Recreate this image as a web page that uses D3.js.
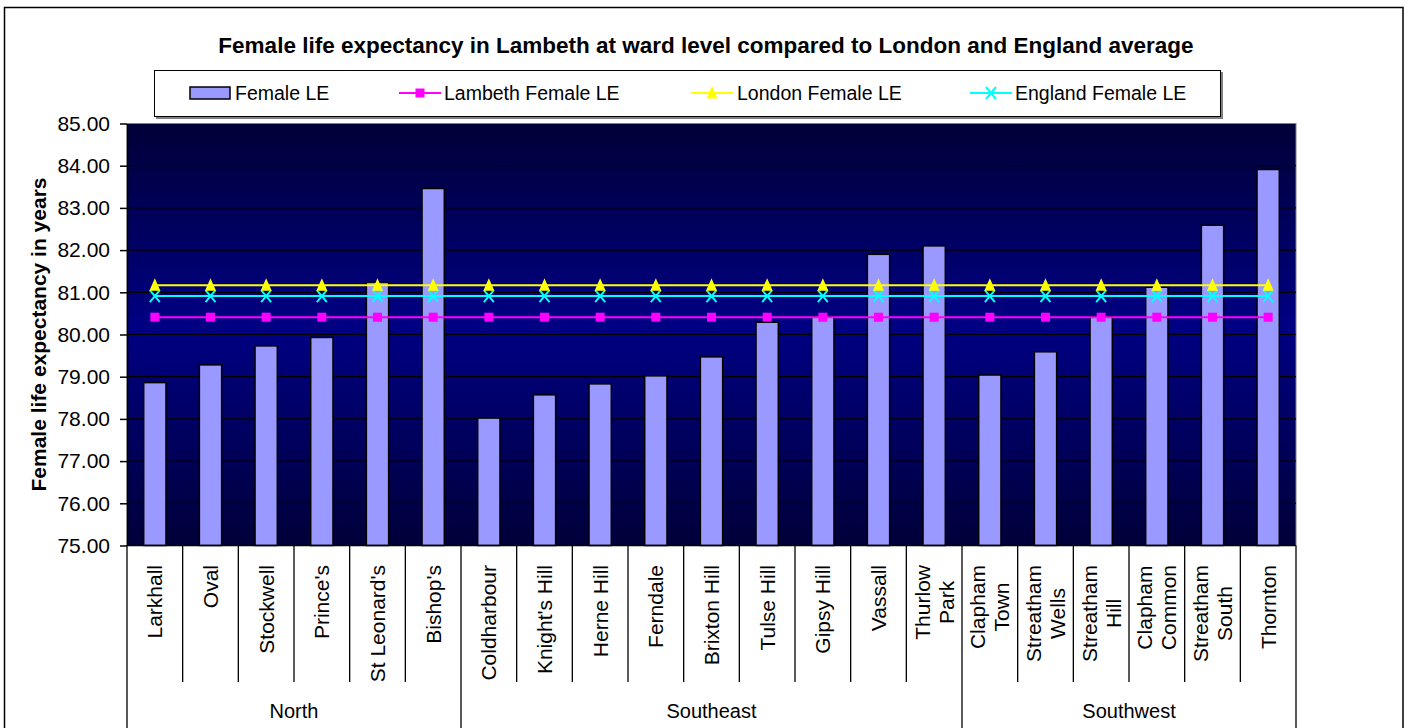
<!DOCTYPE html>
<html>
<head>
<meta charset="utf-8">
<script src="https://cdn.jsdelivr.net/npm/d3@7"></script>
<style>
  body { margin: 0; background: #fff; }
  svg { display: block; }
  text { font-family: "Liberation Sans", Arial, Helvetica, sans-serif; fill: #000; }
</style>
</head>
<body>
<svg id="chart" width="1409" height="728"></svg>
<script>
// Ward-level female life expectancy (years), Lambeth
const wards = [
  "Larkhall", "Oval", "Stockwell", "Prince's", "St Leonard's", "Bishop's",
  "Coldharbour", "Knight's Hill", "Herne Hill", "Ferndale", "Brixton Hill",
  "Tulse Hill", "Gipsy Hill", "Vassall", "Thurlow\nPark",
  "Clapham\nTown", "Streatham\nWells", "Streatham\nHill", "Clapham\nCommon",
  "Streatham\nSouth", "Thornton"
];
const areas = ["North", "Southeast", "Southwest"];
const wardArea = [
  "North", "North", "North", "North", "North", "North",
  "Southeast", "Southeast", "Southeast", "Southeast", "Southeast",
  "Southeast", "Southeast", "Southeast", "Southeast",
  "Southwest", "Southwest", "Southwest", "Southwest", "Southwest", "Southwest"
];
const femaleLE = [
  78.86, 79.28, 79.73, 79.93, 81.24, 83.46,
  78.02, 78.57, 78.83, 79.02, 79.47, 80.29, 80.42, 81.90, 82.10,
  79.04, 79.59, 80.42, 81.12, 82.59, 83.91
];
// Reference averages
const lambethLE = 80.41;
const londonLE = 81.17;
const englandLE = 80.91;
const yTicks = [75, 76, 77, 78, 79, 80, 81, 82, 83, 84, 85];

const titleText = "Female life expectancy in Lambeth at ward level compared to London and England average";
const yTitle = "Female life expectancy in years";

const svg = d3.select("#chart");
const plot = { left: 127, right: 1296, top: 123.5, bottom: 545.5 };

const x = d3.scaleBand().domain(wards).range([plot.left, plot.right])
  .paddingInner(0.6).paddingOuter(0.3);
const y = d3.scaleLinear().domain([75, 85]).range([plot.bottom, plot.top]);
const cx = w => x(w) + x.bandwidth() / 2;
const step = x.step();
const edge = i => plot.left + i * step; // boundary before category i

// Outer chart frame
svg.append("rect").attr("x", 4.5).attr("y", 7.5).attr("width", 1398.5).attr("height", 730)
  .attr("fill", "#fff").attr("stroke", "#000").attr("stroke-width", 1.5);

// Title
svg.append("text").attr("x", 706).attr("y", 53).attr("text-anchor", "middle")
  .style("font-size", "22.5px").style("font-weight", "bold").text(titleText);

// Plot background: navy, brightest toward the middle
const defs = svg.append("defs");
const grad = defs.append("linearGradient").attr("id", "plotBg")
  .attr("x1", 0).attr("y1", 0).attr("x2", 0).attr("y2", 1);
grad.append("stop").attr("offset", "0%").attr("stop-color", "#000038");
grad.append("stop").attr("offset", "48%").attr("stop-color", "#000084");
grad.append("stop").attr("offset", "100%").attr("stop-color", "#00003a");

svg.append("rect").attr("x", plot.left).attr("y", plot.top)
  .attr("width", plot.right - plot.left).attr("height", plot.bottom - plot.top)
  .attr("fill", "url(#plotBg)").attr("stroke", "#808080").attr("stroke-width", 1);

// Horizontal gridlines
svg.append("g").selectAll("line").data(yTicks.filter(t => t > 75 && t < 85)).join("line")
  .attr("x1", plot.left).attr("x2", plot.right)
  .attr("y1", d => y(d)).attr("y2", d => y(d))
  .attr("stroke", "#000").attr("stroke-width", 1.2);

// Bars
svg.append("g").selectAll("rect").data(wards).join("rect")
  .attr("x", d => x(d)).attr("width", x.bandwidth())
  .attr("y", (d, i) => y(femaleLE[i]))
  .attr("height", (d, i) => y(75) - y(femaleLE[i]))
  .attr("fill", "#9999ff").attr("stroke", "#000").attr("stroke-width", 1.5);

// Average lines with markers
const series = [
  { name: "Lambeth Female LE", value: lambethLE, color: "#ff00ff", symbol: "square" },
  { name: "London Female LE", value: londonLE, color: "#ffff00", symbol: "triangle" },
  { name: "England Female LE", value: englandLE, color: "#00ffff", symbol: "times" }
];

function marker(g, type, color) {
  if (type === "square") {
    g.append("rect").attr("x", -4.5).attr("y", -4.5).attr("width", 9).attr("height", 9)
      .attr("fill", color);
  } else if (type === "triangle") {
    g.append("path").attr("d", "M0,-7L5.5,5.5L-5.5,5.5Z").attr("fill", color);
  } else {
    g.append("path").attr("d", "M-5,-6L5,6M5,-6L-5,6")
      .attr("stroke", color).attr("stroke-width", 2).attr("fill", "none");
  }
}

const lineGen = d3.line().x(d => cx(d.w)).y(d => y(d.v));
// England first, then London, then Lambeth
[series[2], series[1], series[0]].forEach(s => {
  const pts = wards.map(w => ({ w, v: s.value }));
  svg.append("path").datum(pts).attr("d", lineGen)
    .attr("fill", "none").attr("stroke", s.color).attr("stroke-width", 2);
});
[series[2], series[1], series[0]].forEach(s => {
  wards.forEach(w => {
    const g = svg.append("g").attr("transform", `translate(${cx(w)},${y(s.value)})`);
    marker(g, s.symbol, s.color);
  });
});

// Y axis
const yAxis = svg.append("g").attr("transform", `translate(${plot.left},0)`)
  .call(d3.axisLeft(y).tickValues(yTicks).tickFormat(d3.format(".2f"))
    .tickSize(7).tickPadding(10).tickSizeOuter(0));
yAxis.select(".domain").attr("stroke", "#000").attr("stroke-width", 1.5);
yAxis.selectAll(".tick line").attr("stroke", "#000").attr("stroke-width", 1.5);
yAxis.selectAll(".tick text").style("font-size", "21px")
  .style("font-family", "'Liberation Sans', Arial, sans-serif").attr("fill", "#000");

svg.append("text")
  .attr("transform", `translate(46,${(plot.top + plot.bottom) / 2}) rotate(-90)`)
  .attr("text-anchor", "middle").style("font-size", "21px").style("font-weight", "bold")
  .text(yTitle);

// Category axis: ward separators and area separators
const catAxis = svg.append("g");
catAxis.append("line").attr("x1", plot.left).attr("x2", plot.right)
  .attr("y1", plot.bottom).attr("y2", plot.bottom).attr("stroke", "#000").attr("stroke-width", 1.5);

const areaStarts = [];
wardArea.forEach((a, i) => { if (i === 0 || wardArea[i - 1] !== a) areaStarts.push(i); });
const areaBounds = areaStarts.concat([wards.length]);

d3.range(wards.length + 1).forEach(i => {
  const full = areaBounds.includes(i);
  catAxis.append("line")
    .attr("x1", edge(i)).attr("x2", edge(i))
    .attr("y1", plot.bottom).attr("y2", full ? 730 : 682)
    .attr("stroke", "#000").attr("stroke-width", 1.3);
});

// Ward labels, rotated, top-aligned; wrapped names centred on their longest line
const labelTop = 565;
const lineGap = 24;
wards.forEach(w => {
  const lines = w.split("\n");
  const g = catAxis.append("g").attr("transform", `translate(${cx(w)},${labelTop}) rotate(-90)`);
  const texts = lines.map(l => g.append("text").style("font-size", "21px").text(l));
  const maxLen = d3.max(texts, t => t.node().getComputedTextLength());
  texts.forEach((t, k) => {
    t.attr("x", -maxLen / 2).attr("text-anchor", "middle")
      .attr("y", (k - (lines.length - 1) / 2) * lineGap)
      .attr("dy", "0.35em");
  });
});

// Area labels
areas.forEach((a, k) => {
  const mid = (edge(areaBounds[k]) + edge(areaBounds[k + 1])) / 2;
  catAxis.append("text").attr("x", mid).attr("y", 718).attr("text-anchor", "middle")
    .style("font-size", "20px").text(a);
});

// Legend
const legend = svg.append("g");
legend.append("rect").attr("x", 156).attr("y", 72).attr("width", 1067).attr("height", 47)
  .attr("fill", "#808080");
legend.append("rect").attr("x", 154.5).attr("y", 70.5).attr("width", 1066).attr("height", 46)
  .attr("fill", "#fff").attr("stroke", "#000").attr("stroke-width", 1);

const legY = 93;
legend.append("rect").attr("x", 190).attr("y", 87).attr("width", 40).attr("height", 12)
  .attr("fill", "#9999ff").attr("stroke", "#000").attr("stroke-width", 1.5);
legend.append("text").attr("x", 235).attr("y", 99.5).style("font-size", "19.5px").text("Female LE");

const legendItems = [
  { s: series[0], x0: 399, tx: 444 },
  { s: series[1], x0: 691, tx: 737 },
  { s: series[2], x0: 970, tx: 1015 }
];
legendItems.forEach(it => {
  legend.append("line").attr("x1", it.x0).attr("x2", it.x0 + 42)
    .attr("y1", legY).attr("y2", legY).attr("stroke", it.s.color).attr("stroke-width", 2);
  const g = legend.append("g").attr("transform", `translate(${it.x0 + 21},${legY})`);
  marker(g, it.s.symbol, it.s.color);
  legend.append("text").attr("x", it.tx).attr("y", 99.5).style("font-size", "19.5px").text(it.s.name);
});
</script>
</body>
</html>
